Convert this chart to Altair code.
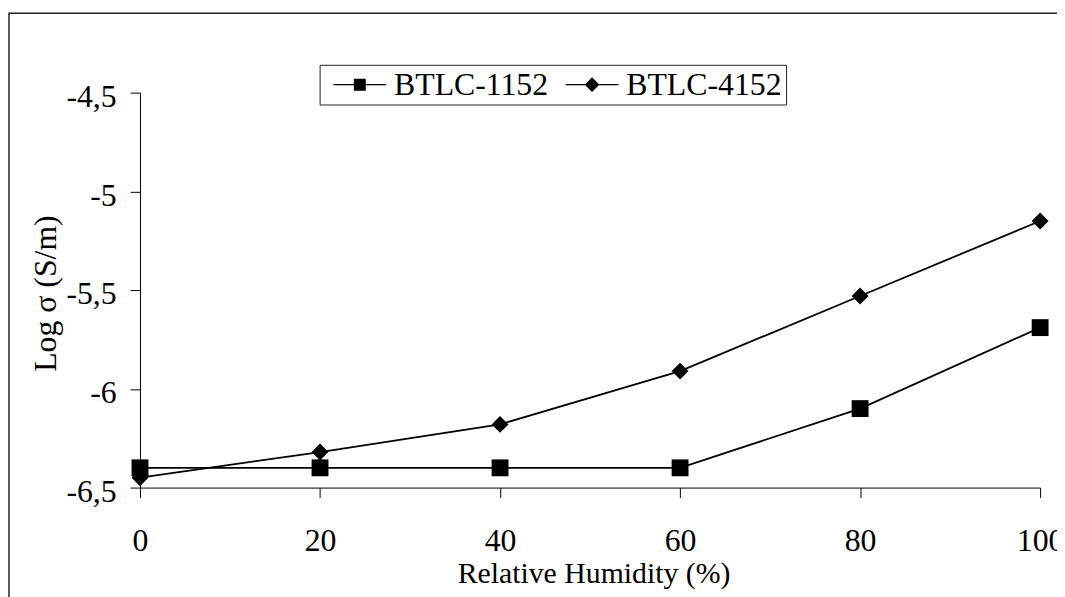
import altair as alt
import pandas as pd

# ---- data ----
humidity = [0, 20, 40, 60, 80, 100]
btlc_1152 = [-6.40, -6.40, -6.40, -6.40, -6.10, -5.69]
btlc_4152 = [-6.45, -6.32, -6.18, -5.91, -5.53, -5.15]
series_names = ["BTLC-1152", "BTLC-4152"]
x_ticks = [0, 20, 40, 60, 80, 100]
y_ticks = [-6.5, -6, -5.5, -5, -4.5]

df = pd.DataFrame({
    "humidity": humidity + humidity,
    "value": btlc_1152 + btlc_4152,
    "series": [series_names[0]] * len(humidity) + [series_names[1]] * len(humidity),
})

FONT = "Liberation Serif"

x_enc = alt.X(
    "humidity:Q",
    scale=alt.Scale(domain=[0, 100], nice=False, zero=False),
    axis=alt.Axis(
        values=x_ticks,
        title="Relative Humidity (%)",
        labelBaseline="alphabetic",
        labelPadding=53,
        titleBaseline="alphabetic",
        titleX=457,
        titleY=96,
        titleFontSize=30,
    ),
)
y_enc = alt.Y(
    "value:Q",
    scale=alt.Scale(domain=[-6.5, -4.5], nice=False, zero=False),
    axis=alt.Axis(
        values=y_ticks,
        title="Log σ (S/m)",
        labelExpr="replace(toString(datum.value), '.', ',')",
        labelBaseline="alphabetic",
        labelOffset=14,
        labelPadding=14,
        titleAngle=270,
        titleBaseline="alphabetic",
        titleAlign="center",
        titleX=-85,
        titleY=202,
        titleFontSize=32,
    ),
)

base = alt.Chart(df)

lines = base.mark_line(color="black", strokeWidth=1.8).encode(
    x=x_enc, y=y_enc, detail="series:N"
)

points = base.mark_point(filled=True, color="black", opacity=1, size=289).encode(
    x=x_enc,
    y=y_enc,
    shape=alt.Shape(
        "series:N",
        scale=alt.Scale(domain=series_names, range=["square", "diamond"]),
        legend=None,
    ),
)

sq_path = "M-3.8,-0.1H3.8V0.1H-3.8Z M-0.86,-0.86H0.86V0.86H-0.86Z"
dia_path = "M-3.8,-0.1H3.8V0.1H-3.8Z M0,-1.05L1.05,0L0,1.05L-1.05,0Z"

legend_layer = base.transform_filter("datum.humidity < 0").mark_point(
    filled=True, color="black", opacity=1
).encode(
    x=x_enc,
    y=y_enc,
    shape=alt.Shape(
        "series:N",
        scale=alt.Scale(domain=series_names, range=[sq_path, dia_path]),
        legend=alt.Legend(
            title=None,
            orient="none",
            legendX=181,
            legendY=-28,
            direction="horizontal",
            strokeColor="#222222",
            fillColor="white",
            padding=4,
            symbolSize=196,
            symbolOffset=20.5,
            symbolFillColor="black",
            symbolStrokeWidth=0,
            symbolOpacity=1,
            labelOffset=18.5,
            columnPadding=7,
            labelFont=FONT,
            labelFontSize=32,
            labelColor="black",
            labelLimit=400,
        ),
    ),
)

border = alt.Chart(pd.DataFrame({"b": [0]})).mark_rect(
    filled=False, stroke="#222222", strokeWidth=1.5, clip=False
).encode(
    x=alt.value(-132), x2=alt.value(1000), y=alt.value(-80), y2=alt.value(1000)
)

chart = (
    alt.layer(border, lines, points, legend_layer)
    .resolve_scale(shape="independent")
    .properties(
        width=907,
        height=398,
        autosize=alt.AutoSizeParams(type="none"),
        padding={"left": 133, "top": 83, "right": 17, "bottom": 108},
        background="white",
    )
    .configure_view(stroke=None)
    .configure_axis(
        grid=False,
        domainColor="black",
        domainWidth=1,
        tickColor="black",
        tickWidth=1,
        tickSize=10,
        labelFont=FONT,
        labelFontSize=32,
        labelColor="black",
        labelFlush=False,
        labelOverlap=False,
        labelBound=False,
        titleFont=FONT,
        titleFontWeight="normal",
        titleColor="black",
    )
)

chart.save("out.html", embed_options={"renderer": "svg", "actions": False})
